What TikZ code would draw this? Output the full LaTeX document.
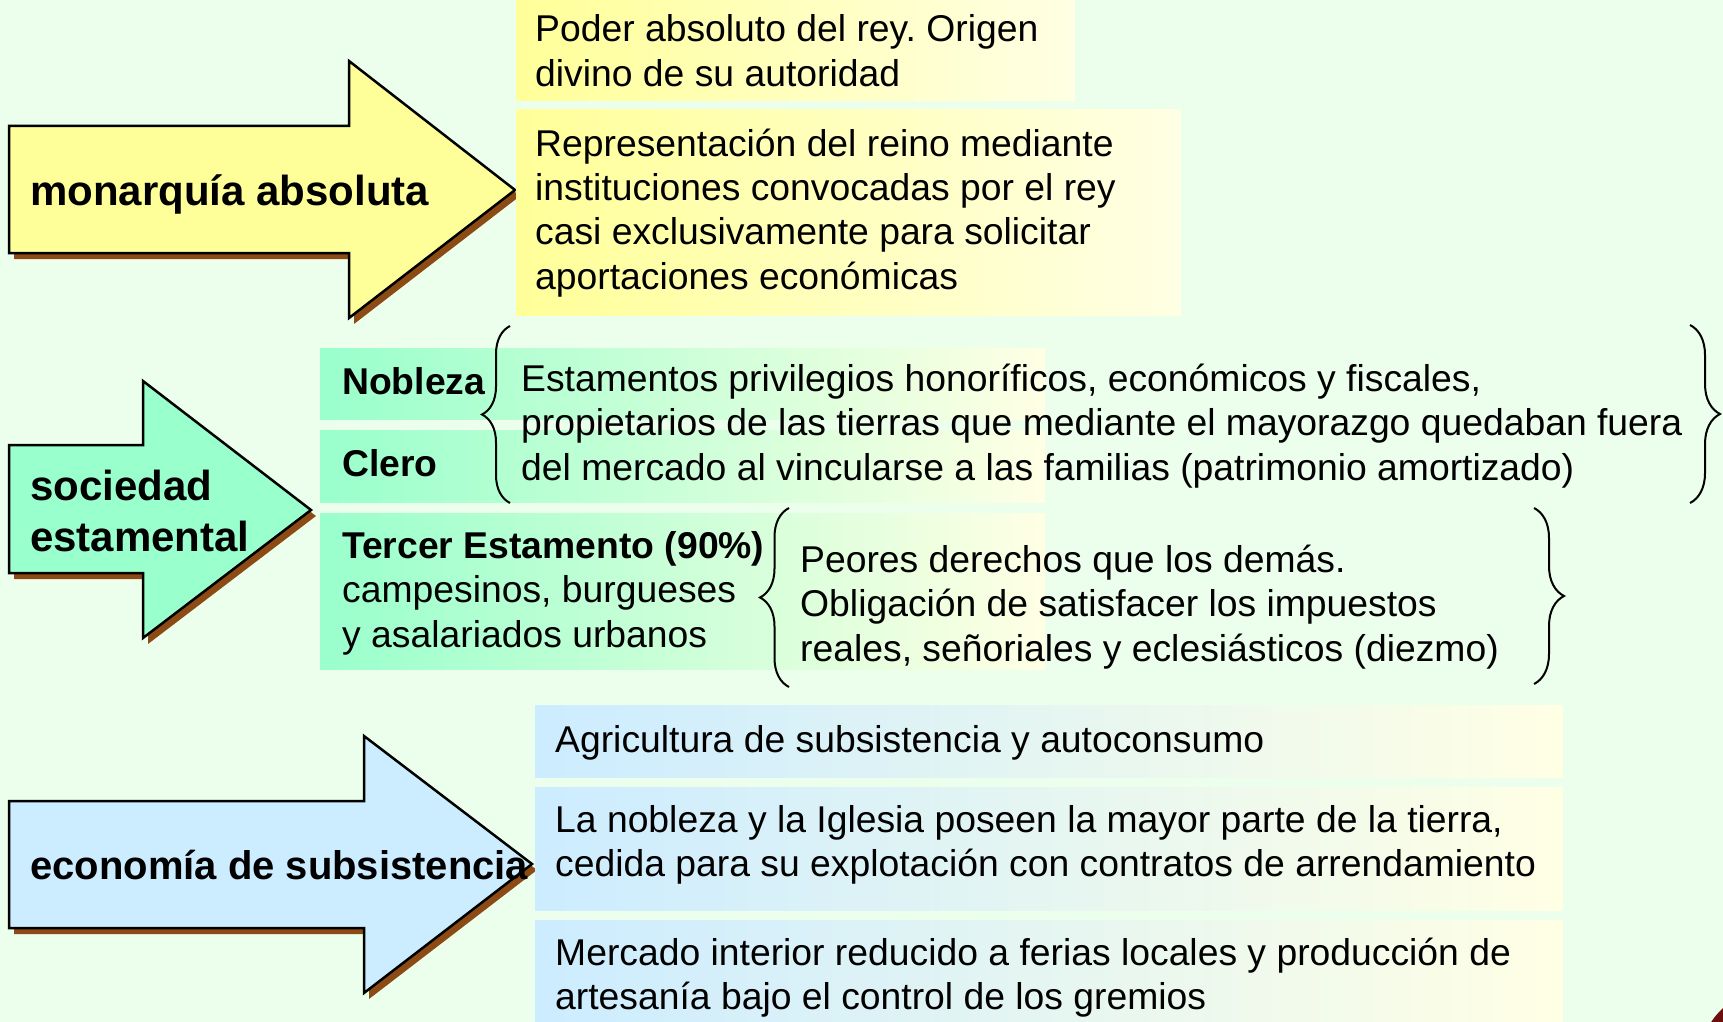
\documentclass[tikz,border=0pt]{standalone}
\usepackage{fontspec}
\setmainfont{Liberation Sans}
\usetikzlibrary{decorations.pathreplacing}
\definecolor{bgc}{RGB}{236,254,236}
\definecolor{yel}{RGB}{255,255,153}
\definecolor{paleyel}{RGB}{255,255,228}
\definecolor{mint}{RGB}{153,255,204}
\definecolor{lblue}{RGB}{204,236,255}
\definecolor{shadowc}{RGB}{140,75,20}
\definecolor{maroonc}{RGB}{110,15,15}
\newcommand{\txtlines}[1]{\begin{tabular}[t]{@{}l@{}}#1\end{tabular}}
\frenchspacing
\begin{document}
\begin{tikzpicture}[x=1pt,y=-1pt,
  body/.style={anchor=base west, inner sep=0pt, font=\fontsize{37.3}{44.5}\selectfont},
  title/.style={anchor=base west, inner sep=0pt, font=\fontsize{42}{51}\selectfont\bfseries},
  arrowline/.style={draw=black, line width=2.5pt, line join=miter},
  shadowfill/.style={fill=shadowc},
  bracec/.style={draw=black, line width=2pt, decorate, decoration={brace, amplitude=#1}},
  yband/.style={left color=yel, right color=paleyel, draw=none},
  gband/.style={left color=mint, right color=paleyel, draw=none},
  bband/.style={left color=lblue, right color=paleyel, draw=none},
]
\useasboundingbox (0,0) rectangle (1723,1022);
\fill[bgc] (0,0) rectangle (1723,1022);
\begin{scope}
\clip (0,0) rectangle (1723,1022);
\fill[maroonc] (1770,1060) circle (70);
% ---------- monarquia ----------
\fill[shadowfill, shift={(5,6)}] (9,126) -- (349,126) -- (349,61) -- (515,190) -- (349,318) -- (349,253) -- (9,253) -- cycle;
\path[arrowline, fill=yel] (9,126) -- (349,126) -- (349,61) -- (515,190) -- (349,318) -- (349,253) -- (9,253) -- cycle;
\shade[yband] (516,-5) rectangle (1075,101);
\shade[yband] (516,110) rectangle (1181,315);
\node[title] (tmon) at (30,205) {monarquía absoluta};
\node[body] (poder) at (535,42) {\txtlines{Poder absoluto del rey. Origen\\divino de su autoridad}};
\node[body] (repr) at (535,156) {\txtlines{Representación del reino mediante\\instituciones convocadas por el rey\\casi exclusivamente para solicitar\\aportaciones económicas}};
% ---------- sociedad ----------
\fill[shadowfill, shift={(5,6)}] (9,445) -- (143,445) -- (143,381) -- (311,510) -- (143,638) -- (143,573) -- (9,573) -- cycle;
\path[arrowline, fill=mint] (9,445) -- (143,445) -- (143,381) -- (311,510) -- (143,638) -- (143,573) -- (9,573) -- cycle;
\shade[gband] (320,348) rectangle (1045,419);
\shade[gband] (320,430) rectangle (1045,502);
\shade[gband] (320,513) rectangle (1045,669);
\node[title] (tsoc) at (30,500) {\txtlines{sociedad\\estamental}};
\node[body, font=\fontsize{37.3}{44.5}\selectfont\bfseries] (nob) at (342,394) {Nobleza};
\node[body, font=\fontsize{37.3}{44.5}\selectfont\bfseries] (cle) at (342,476) {Clero};
\node[body] (estam) at (521,391) {\txtlines{Estamentos privilegios honoríficos, económicos y fiscales,\\propietarios de las tierras que mediante el mayorazgo quedaban fuera\\del mercado al vincularse a las familias (patrimonio amortizado)}};
\node[body] (terc) at (342,558) {\txtlines{\textbf{Tercer Estamento (90\%)}\\campesinos, burgueses\\y asalariados urbanos}};
\node[body] (peor) at (800,572) {\txtlines{Peores derechos que los demás.\\Obligación de satisfacer los impuestos\\reales, señoriales y eclesiásticos (diezmo)}};
\draw[bracec=28pt] (510,503) -- (510,326);
\draw[bracec=30pt] (1690,325) -- (1690,503);
\draw[bracec=29pt] (789,687) -- (789,508);
\draw[bracec=30pt] (1534,508) -- (1534,684);
% ---------- economia ----------
\fill[shadowfill, shift={(5,6)}] (9,801) -- (364,801) -- (364,736) -- (532,864) -- (364,993) -- (364,928) -- (9,928) -- cycle;
\path[arrowline, fill=lblue] (9,801) -- (364,801) -- (364,736) -- (532,864) -- (364,993) -- (364,928) -- (9,928) -- cycle;
\shade[bband] (535,705) rectangle (1563,777);
\shade[bband] (535,787) rectangle (1563,910);
\shade[bband] (535,920) rectangle (1563,1030);
\node[title, font=\fontsize{40}{48}\selectfont\bfseries] (teco) at (30,879) {economía de subsistencia};
\node[body] (agri) at (555,752) {Agricultura de subsistencia y autoconsumo};
\node[body] (nobl) at (555,832) {\txtlines{La nobleza y la Iglesia poseen la mayor parte de la tierra,\\cedida para su explotación con contratos de arrendamiento}};
\node[body] (merc) at (555,965) {\txtlines{Mercado interior reducido a ferias locales y producción de\\artesanía bajo el control de los gremios}};
\end{scope}
\end{tikzpicture}
\end{document}
